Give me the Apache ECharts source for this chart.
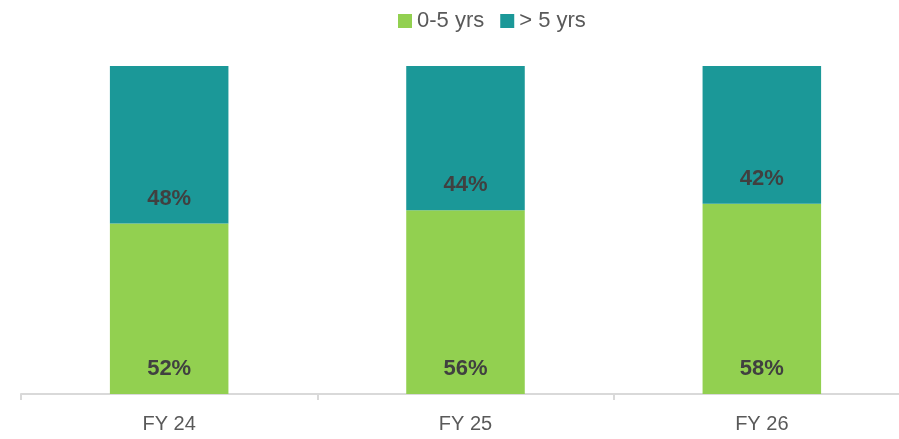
<!DOCTYPE html>
<html>
<head>
<meta charset="utf-8">
<script src="https://cdn.jsdelivr.net/npm/echarts@6/dist/echarts.min.js"></script>
<style>
  html, body { margin: 0; padding: 0; background: #fff; }
  #chart { width: 899px; height: 439px; }
</style>
</head>
<body>
<div id="chart"></div>
<script>
// data
var categories = ['FY 24', 'FY 25', 'FY 26'];
var young = [52, 56, 58];   // 0-5 yrs
var old = [48, 44, 42];     // > 5 yrs
var seriesNames = ['0-5 yrs', '> 5 yrs'];

var labelStyle = {
    show: true,
    position: 'insideBottom',
    distance: 14,
    formatter: '{c}%',
    color: '#404040',
    fontSize: 22,
    fontWeight: 'bold',
    fontFamily: 'Liberation Sans'
};

var myChart = echarts.init(document.getElementById('chart'));
myChart.setOption({
    animation: false,
    textStyle: { fontFamily: 'Liberation Sans' },
    legend: {
        top: 5,
        left: 393,
        itemWidth: 14,
        itemHeight: 14,
        itemGap: 16,
        icon: 'rect',
        textStyle: { color: '#595959', fontSize: 22 },
        data: seriesNames
    },
    grid: { left: 21, right: -11, top: 66, bottom: 45, outerBoundsMode: 'none', containLabel: false },
    xAxis: {
        type: 'category',
        data: categories,
        axisLine: { lineStyle: { color: '#d9d9d9', width: 2 } },
        axisTick: { show: true, length: 6, lineStyle: { color: '#d9d9d9', width: 2 } },
        axisLabel: { color: '#595959', fontSize: 20, margin: 20 }
    },
    yAxis: {
        type: 'value',
        min: 0,
        max: 100,
        show: false
    },
    series: [
        {
            name: seriesNames[0],
            type: 'bar',
            stack: 'total',
            barWidth: '40%',
            itemStyle: { color: '#92d050' },
            label: labelStyle,
            data: young
        },
        {
            name: seriesNames[1],
            type: 'bar',
            stack: 'total',
            barWidth: '40%',
            itemStyle: { color: '#1b9898' },
            label: labelStyle,
            data: old
        }
    ]
});
</script>
</body>
</html>
